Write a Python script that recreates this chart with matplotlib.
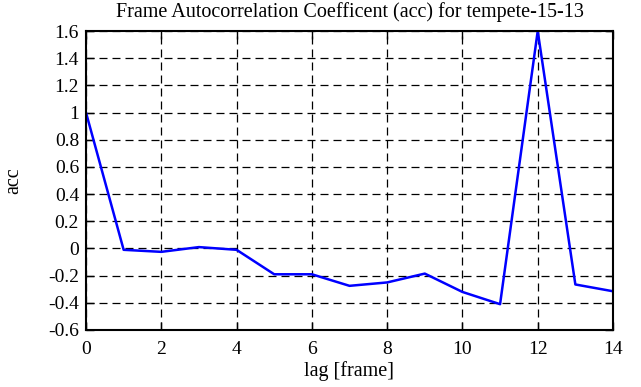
import matplotlib
matplotlib.use("Agg")
import matplotlib.pyplot as plt

# =================================================
# DATA
# =================================================
lags = [0, 1, 2, 3, 4, 5, 6, 7, 8, 9, 10, 11, 12, 13, 14]
acc = [1.0, -0.01, -0.025, 0.01, -0.01, -0.19, -0.19, -0.275, -0.25, -0.185,
       -0.32, -0.41, 1.6, -0.265, -0.315]
xticks = [0, 2, 4, 6, 8, 10, 12, 14]
yticks = [-0.6, -0.4, -0.2, 0, 0.2, 0.4, 0.6, 0.8, 1, 1.2, 1.4, 1.6]

plt.rcParams["font.family"] = ["Liberation Serif", "DejaVu Serif"]
plt.rcParams["font.size"] = 14

fig = plt.figure(figsize=(6.41, 3.87), dpi=100)
ax = fig.add_axes([86 / 641, 1 - 330 / 387, 527 / 641, 299 / 387])

ax.plot(lags, acc, color="#0000ff", lw=1.8)

ax.set_xlim(0, 14)
ax.set_ylim(-0.6, 1.6)
ax.set_xticks(xticks)
ax.set_yticks(yticks)
ax.set_yticklabels([f"{v:g}" for v in yticks])
ax.grid(True, color="black", linestyle=(0, (6.4, 4)), lw=0.9)
ax.tick_params(direction="in", top=True, right=True, length=6, width=1)
ax.tick_params(axis="x", pad=8)
ax.tick_params(axis="y", pad=5)
for s in ax.spines.values():
    s.set_linewidth(1.5)

ax.set_title("Frame Autocorrelation Coefficent (acc) for tempete-15-13", fontsize=14.5, pad=10)
ax.set_xlabel("lag [frame]", fontsize=14.5, labelpad=2)
ax.set_ylabel("acc", fontsize=14.5, labelpad=18)

fig.savefig("out.png", dpi=100)
